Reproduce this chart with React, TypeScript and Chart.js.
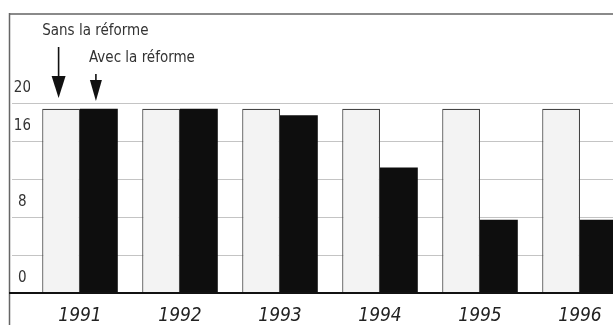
import React, { useEffect, useRef } from "react";
import { Chart, registerables } from "chart.js";

Chart.register(...registerables);

const years = ["1991", "1992", "1993", "1994", "1995", "1996"];
const sansReforme = [19.4, 19.4, 19.4, 19.4, 19.4, 19.4];
const avecReforme = [19.4, 19.4, 18.7, 13.2, 7.7, 7.7];
const yTickLabels = ["0", "8", "16", "20"];
const seriesNames = ["Sans la réforme", "Avec la réforme"];

const NARROW = "'Liberation Sans Narrow', 'Arial Narrow', 'DejaVu Sans Condensed', sans-serif";

const framePlugin = {
  id: "frame",
  beforeDraw(chart: any) {
    const ctx = chart.ctx;
    ctx.save();
    ctx.strokeStyle = "#8a8a8a";
    ctx.lineWidth = 2;
    ctx.beginPath();
    ctx.moveTo(9, 14);
    ctx.lineTo(chart.width, 14);
    ctx.stroke();
    ctx.strokeStyle = "#666";
    ctx.lineWidth = 1.5;
    ctx.beginPath();
    ctx.moveTo(9.5, 13);
    ctx.lineTo(9.5, chart.height);
    ctx.stroke();
    ctx.restore();
  },
  afterDraw(chart: any) {
    const ctx = chart.ctx;
    const y0 = chart.scales.y.getPixelForValue(0);
    ctx.save();
    ctx.strokeStyle = "#111";
    ctx.lineWidth = 2;
    ctx.beginPath();
    ctx.moveTo(9, y0);
    ctx.lineTo(chart.chartArea.left + 1, y0);
    ctx.stroke();
    ctx.restore();
  },
};

const annotationPlugin = {
  id: "annot",
  afterDatasetsDraw(chart: any) {
    const ctx = chart.ctx;
    const b0 = chart.getDatasetMeta(0).data[0] as any;
    const b1 = chart.getDatasetMeta(1).data[0] as any;
    ctx.save();
    ctx.font = `15px ${NARROW}`;
    ctx.fillStyle = "#333";
    ctx.textBaseline = "middle";
    ctx.textAlign = "left";
    const w0 = b0.width || 37.8;
    ctx.fillText(seriesNames[0], b0.x - w0 / 2, 31.5);
    ctx.fillText(seriesNames[1], b1.x - w0 / 2 + 9, 58);

    const drawArrow = (x: number, y1: number, yh: number, y2: number, hw: number) => {
      ctx.strokeStyle = "#111";
      ctx.fillStyle = "#111";
      ctx.lineWidth = 1.6;
      ctx.beginPath();
      ctx.moveTo(x, y1);
      ctx.lineTo(x, yh + 1);
      ctx.stroke();
      ctx.beginPath();
      ctx.moveTo(x - hw, yh);
      ctx.lineTo(x + hw, yh);
      ctx.lineTo(x, y2);
      ctx.closePath();
      ctx.fill();
    };
    drawArrow(b0.x - 2.5, 47, 76, 98, 7);
    drawArrow(b1.x - 3, 74, 80, 101, 6);
    ctx.restore();
  },
};

export default function App() {
  const ref = useRef<HTMLCanvasElement>(null);
  useEffect(() => {
    if (!ref.current) return;
    const chart = new Chart(ref.current, {
      type: "bar",
      data: {
        labels: years,
        datasets: [
          {
            label: seriesNames[0],
            data: sansReforme,
            backgroundColor: "#f3f3f3",
            borderColor: "#444",
            borderWidth: 1.2,
            categoryPercentage: 0.756,
            barPercentage: 1,
          },
          {
            label: seriesNames[1],
            data: avecReforme,
            backgroundColor: "#0e0e0e",
            borderColor: "#0e0e0e",
            borderWidth: 0,
            categoryPercentage: 0.756,
            barPercentage: 1,
          },
        ],
      },
      options: {
        responsive: false,
        animation: false,
        devicePixelRatio: 1,
        layout: { padding: { top: 103, left: 0, right: 0, bottom: 0 } },
        plugins: { legend: { display: false }, tooltip: { enabled: false } },
        scales: {
          x: {
            grid: { display: false },
            border: { display: false },
            ticks: {
              padding: 4,
              color: "#222",
              font: { family: NARROW, size: 19, style: "italic" },
            },
            afterFit: (s: any) => {
              s.height = 32;
            },
          },
          y: {
            min: 0,
            max: 20,
            border: { display: false },
            grid: {
              drawTicks: true,
              tickLength: 18,
              color: (c: any) => (c.tick && c.tick.value === 0 ? "#111" : "#c4c4c4"),
              tickColor: (c: any) => (c.tick && c.tick.value === 0 ? "#111" : "#c4c4c4"),
              lineWidth: (c: any) => (c.tick && c.tick.value === 0 ? 2 : 1),
            },
            ticks: {
              stepSize: 4,
              padding: -19,
              crossAlign: "center",
              labelOffset: -15,
              color: "#333",
              font: { family: NARROW, size: 15 },
              callback: (v: any) => (yTickLabels.includes(String(v)) ? String(v) : ""),
            },
            afterFit: (s: any) => {
              s.width = 30;
            },
          },
        },
      },
      plugins: [framePlugin, annotationPlugin],
    } as any);
    return () => chart.destroy();
  }, []);
  return (
    <div
      style={{
        position: "fixed",
        left: 0,
        top: 0,
        width: 613,
        height: 325,
        overflow: "hidden",
        background: "#fff",
      }}
    >
      <canvas ref={ref} width={630} height={325} style={{ display: "block" }} />
    </div>
  );
}
